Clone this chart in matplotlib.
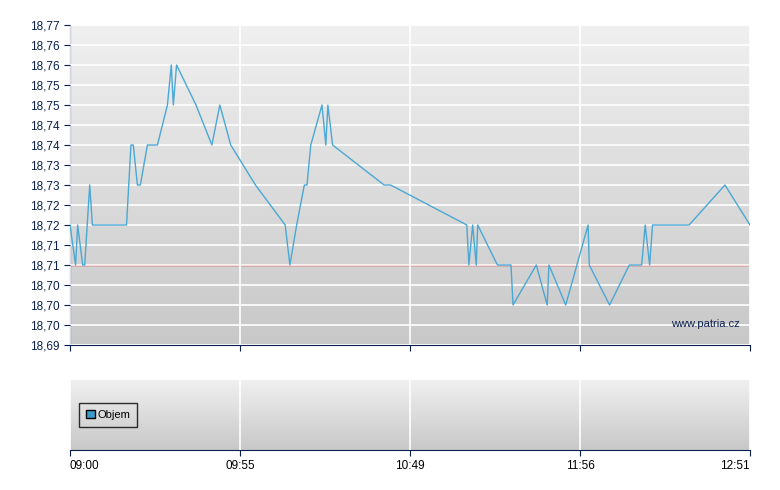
import numpy as np
import matplotlib
matplotlib.use('Agg')
import matplotlib.pyplot as plt
from matplotlib.patches import Patch

plt.rcParams['font.family'] = ['Liberation Sans', 'DejaVu Sans']

# minutes since 09:00 and price
minutes = [0.0, 1.9, 2.6, 4.3, 5.0, 6.7, 7.6, 19.2, 20.7, 21.5, 22.9, 23.9, 26.3, 29.7,
           33.1, 34.4, 35.1, 36.2, 42.8, 48.2, 50.9, 54.6, 63.0, 73.1, 74.7, 77.0, 79.6,
           80.5, 81.8, 85.6, 86.9, 87.6, 89.2, 106.7, 108.9, 134.8, 135.5, 136.8, 138.0,
           138.5, 145.2, 149.8, 150.5, 158.4, 162.1, 162.7, 168.4, 176.0, 176.4, 183.3,
           190.0, 194.2, 195.4, 196.9, 197.9, 210.3, 222.5, 231.0]
prices = [18.72, 18.71, 18.72, 18.71, 18.71, 18.73, 18.72, 18.72, 18.74, 18.74, 18.73,
          18.73, 18.74, 18.74, 18.75, 18.76, 18.75, 18.76, 18.75, 18.74, 18.75, 18.74,
          18.73, 18.72, 18.71, 18.72, 18.73, 18.73, 18.74, 18.75, 18.74, 18.75, 18.74,
          18.73, 18.73, 18.72, 18.71, 18.72, 18.71, 18.72, 18.71, 18.71, 18.70, 18.71,
          18.70, 18.71, 18.70, 18.72, 18.71, 18.70, 18.71, 18.71, 18.72, 18.71, 18.72,
          18.72, 18.73, 18.72]
prev_close = 18.71

y_ticks = [18.77 - 0.005 * i for i in range(17)]
y_labels = ['18,77', '18,76', '18,76', '18,75', '18,75', '18,74', '18,74', '18,73', '18,73',
            '18,72', '18,72', '18,71', '18,71', '18,70', '18,70', '18,70', '18,69']
x_labels = ['09:00', '09:55', '10:49', '11:56', '12:51']
x_end = 231.0
x_ticks = [x_end * f for f in (0, 0.25, 0.5, 0.75, 1)]

navy = '#0a1f4d'
line_c = '#4aa8d4'

fig = plt.figure(figsize=(7.8, 4.9), dpi=100)
ax = fig.add_axes([70/780, 1-345/490, 680/780, 320/490])
axv = fig.add_axes([70/780, 1-450/490, 680/780, 70/490])

grad = np.linspace(0, 1, 256).reshape(-1, 1)
for a, (y0, y1) in ((ax, (18.69, 18.77)), (axv, (0, 1))):
    a.imshow(grad, extent=[0, x_end, y0, y1], aspect='auto', origin='upper',
             cmap=matplotlib.colors.LinearSegmentedColormap.from_list('g', ['#f0f0f0', '#c8c8c8']),
             zorder=0)
    a.set_xlim(0, x_end)
    a.set_ylim(y0, y1)
    for s in ('top', 'right'):
        a.spines[s].set_visible(False)
    a.spines['left'].set_color(navy)
    a.spines['bottom'].set_color(navy)
    a.set_xticks(x_ticks)
    a.tick_params(colors=navy, labelsize=8.5, length=4)
    a.grid(True, color='white', linewidth=1.2, zorder=1)
    a.set_axisbelow(False)

ax.set_yticks(y_ticks)
ax.set_yticklabels(y_labels)
ax.set_xticklabels([])
ax.axhline(prev_close, color='#d62020', linewidth=1, zorder=2)
ax.plot(minutes, prices, color=line_c, linewidth=1, zorder=3)
ax.text(0.985, 0.065, 'www.patria.cz', transform=ax.transAxes, ha='right', va='center',
        fontsize=8, color=navy)

axv.set_yticks([])
axv.spines['left'].set_visible(False)
axv.grid(True, axis='x', color='white', linewidth=1.2)
axv.grid(False, axis='y')
axv.set_xticklabels(x_labels, color='black')
axv.xaxis.get_ticklabels()[0].set_ha('left')
axv.xaxis.get_ticklabels()[-1].set_ha('right')
leg = axv.legend(handles=[Patch(facecolor='#3a9ccc', edgecolor='black', label='Objem')],
                 loc='center left', bbox_to_anchor=(0.005, 0.5), fontsize=8, fancybox=False,
                 handlelength=0.8, handleheight=0.8, borderpad=0.6, handletextpad=0.3)
leg.get_frame().set_edgecolor('black')
leg.get_frame().set_facecolor('none')

fig.savefig('out.png', dpi=100)
